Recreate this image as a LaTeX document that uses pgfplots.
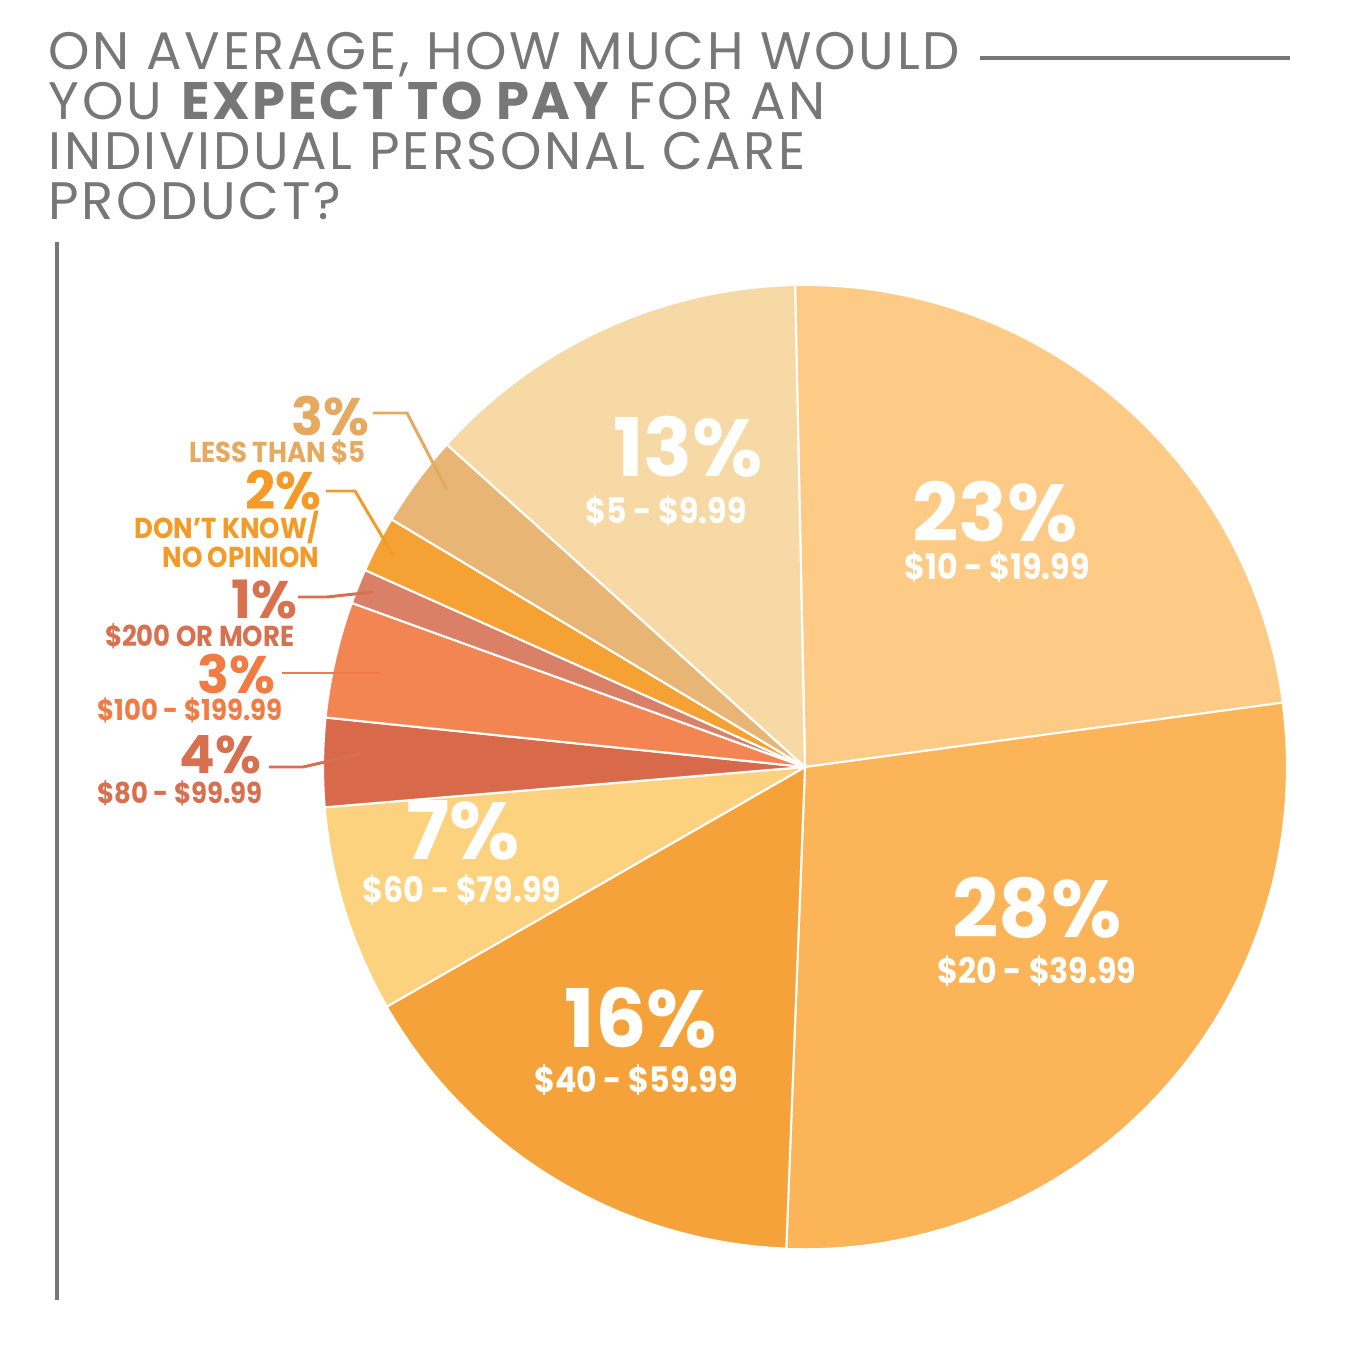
\documentclass[border=0pt]{standalone}
\usepackage{pgfplots}
\pgfplotsset{compat=1.18}
\usepackage{pgfplotstable}
\usepackage{fontspec}
\setmainfont{Poppins}
\newfontfamily\titlefont[LetterSpace=5]{Poppins}
\newfontfamily\subfont[FakeStretch=0.9]{Poppins}
\definecolor{ttl}{HTML}{777777}
\definecolor{cA}{HTML}{FDCB85}
\definecolor{cB}{HTML}{FBB457}
\definecolor{cC}{HTML}{F6A23A}
\definecolor{cD}{HTML}{FDD27E}
\definecolor{cE}{HTML}{D86A4B}
\definecolor{cF}{HTML}{F38553}
\definecolor{cG}{HTML}{D98067}
\definecolor{cH}{HTML}{F5A133}
\definecolor{cI}{HTML}{E9B574}
\definecolor{cJ}{HTML}{F6D9A5}
\definecolor{lI}{HTML}{E6A960}
\definecolor{lH}{HTML}{F39A28}
\definecolor{lG}{HTML}{D77150}
\definecolor{lF}{HTML}{F07C43}
\definecolor{lE}{HTML}{D6704F}

% slices clockwise from the top, values in percent (as drawn)
\pgfplotstableread{
name value col
s10to19 23.2 cA
s20to39 27.75 cB
s40to59 16.1 cC
s60to79 6.95 cD
s80to99 2.97 cE
s100to199 3.89 cF
s200 1.17 cG
dk 1.89 cH
lt5 3.08 cI
s5to9 13.0 cJ
}\pietable
\pgfplotstablecreatecol[create col/expr accum={\pgfmathaccuma + \thisrow{value}}{0}]{cum}{\pietable}

\begin{document}
\begin{tikzpicture}
\begin{axis}[x=0.01cm,y=0.01cm,xmin=0,xmax=1347,ymin=0,ymax=1346,hide axis,clip=false]
\path (axis cs:0,0) rectangle (axis cs:1347,1346);
\pgfplotsinvokeforeach{0,...,9}{
  \pgfplotstablegetelem{#1}{value}\of\pietable \let\sv\pgfplotsretval
  \pgfplotstablegetelem{#1}{cum}\of\pietable \let\sc\pgfplotsretval
  \pgfplotstablegetelem{#1}{col}\of\pietable \let\scol\pgfplotsretval
  \pgfmathsetmacro\sa{91.2-3.6*(\sc-\sv)}
  \pgfmathsetmacro\sb{91.2-3.6*\sc}
  \pgfmathsetmacro\px{805+482*cos(\sa)}
  \pgfmathsetmacro\py{579+482*sin(\sa)}
  \edef\temp{\noexpand\fill[fill=\scol, draw=white, line width=0.6pt, line join=round] (axis cs:805,579) -- (axis cs:\px,\py) arc[start angle=\sa, end angle=\sb, radius=4.82cm] -- cycle;}
  \temp
}
% title
\tikzset{tl/.style={anchor=base west, text=ttl, font=\fontsize{15}{15}\titlefont, inner sep=0pt}}
\node[tl] at (axis cs:48,1276) {ON AVERAGE, HOW MUCH WOULD};
\node[tl] at (axis cs:48,1226) {YOU \textbf{EXPECT TO PAY} FOR AN};
\node[tl] at (axis cs:48,1176) {INDIVIDUAL PERSONAL CARE};
\node[tl] at (axis cs:48,1126) {PRODUCT?};
\draw[ttl, line width=1.1pt] (axis cs:980,1288) -- (axis cs:1290,1288);
\draw[ttl, line width=0.9pt] (axis cs:57,1104) -- (axis cs:57,46);
% white inner labels
\tikzset{big/.style={text=white, font=\fontsize{23}{23}\selectfont\bfseries, inner sep=0pt, anchor=base},
         sub/.style={text=white, font=\fontsize{10}{10}\subfont\bfseries, inner sep=0pt, anchor=base}}
\node[big] at (axis cs:688,869) {13\%};
\node[sub] at (axis cs:666,822) {\$5 - \$9.99};
\node[big] at (axis cs:995,804) {23\%};
\node[sub] at (axis cs:997,766) {\$10 - \$19.99};
\node[big] at (axis cs:1037,409) {28\%};
\node[sub] at (axis cs:1037,363) {\$20 - \$39.99};
\node[big] at (axis cs:641,299) {16\%};
\node[sub] at (axis cs:636,254) {\$40 - \$59.99};
\node[big] at (axis cs:463,487) {7\%};
\node[sub] at (axis cs:462,444) {\$60 - \$79.99};
% outside labels
\tikzset{lp/.style={font=\fontsize{15}{15}\selectfont\bfseries, inner sep=0pt, anchor=east},
         ls/.style={font=\fontsize{8.2}{8.2}\subfont\bfseries, inner sep=0pt, anchor=east}}
\node[lp, text=lI] at (axis cs:370,930) {3\%};
\node[ls, text=lI] at (axis cs:366,894) {LESS THAN \$5};
\draw[lI, line width=0.85pt] (axis cs:373,933) -- (axis cs:407,933) -- (axis cs:447,856);
\node[lp, text=lH] at (axis cs:322,856) {2\%};
\node[ls, text=lH] at (axis cs:320,818) {DON’T KNOW/};
\node[ls, text=lH] at (axis cs:320,789) {NO OPINION};
\draw[lH, line width=0.85pt] (axis cs:326,855) -- (axis cs:355,855) -- (axis cs:393,791);
\node[lp, text=lG] at (axis cs:298,746) {1\%};
\node[ls, text=lG] at (axis cs:295,710) {\$200 OR MORE};
\draw[lG, line width=0.85pt] (axis cs:298,749) -- (axis cs:327,749) -- (axis cs:373,754);
\node[lp, text=lF] at (axis cs:276,672) {3\%};
\node[ls, text=lF] at (axis cs:283,636) {\$100 - \$199.99};
\draw[lF, line width=0.85pt] (axis cs:282,673) -- (axis cs:381,673);
\node[lp, text=lE] at (axis cs:262,591) {4\%};
\node[ls, text=lE] at (axis cs:263,553) {\$80 - \$99.99};
\draw[lE, line width=0.85pt] (axis cs:269,579) -- (axis cs:303,579) -- (axis cs:360,592);
\end{axis}
\end{tikzpicture}
\end{document}
